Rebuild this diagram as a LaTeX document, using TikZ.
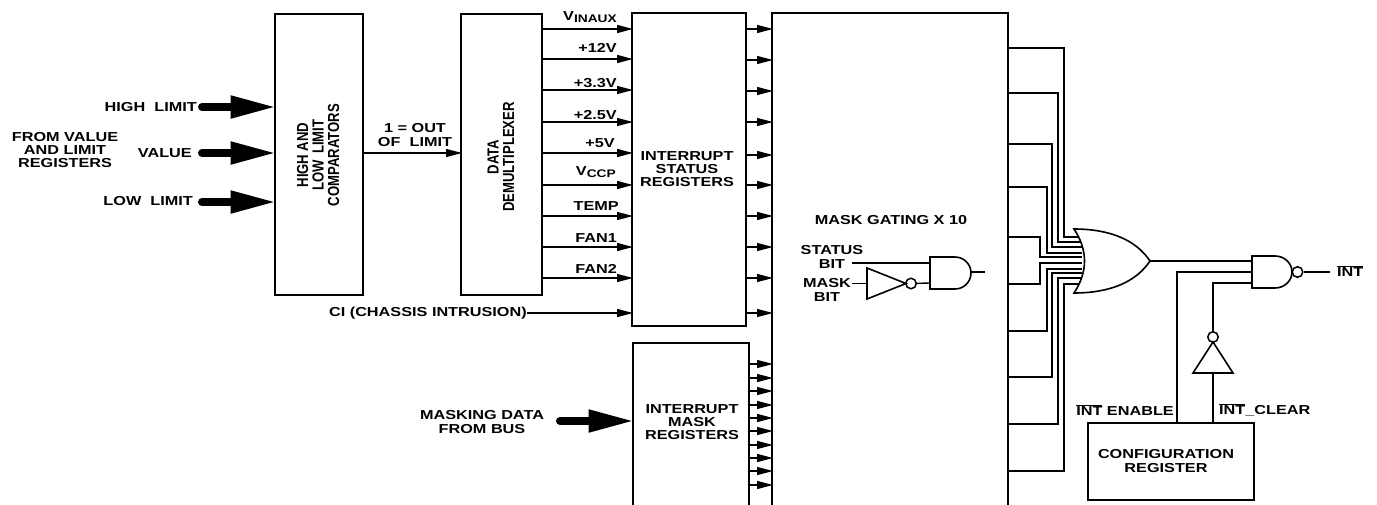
\documentclass[tikz,border=0pt]{standalone}
\usepackage{fontspec}
\setmainfont[FakeStretch=1.25]{Liberation Sans}
\newfontfamily\narrowf[FakeStretch=0.82]{Liberation Sans}
\usetikzlibrary{arrows.meta}
\tikzset{
  blockbox/.style={draw,line width=1.6pt,anchor=north west,inner sep=0pt,outer sep=0pt},
  sig/.style={line width=1.2pt,-{Triangle[length=16pt,width=8pt]},shorten >=-1pt},
  bus/.style={line width=8pt,line cap=round,-{Triangle[length=46pt,width=21pt]},shorten >=-1.5pt},
  wire/.style={line width=1.4pt},
  gate/.style={line width=1.6pt},
  bubble/.style={draw,circle,line width=1.5pt,minimum size=10.5pt,inner sep=0pt},
  lab/.style={font=\bfseries\fontsize{13}{13.4}\selectfont,align=center,inner sep=0pt,text=black},
  rotlab/.style={font=\narrowf\bfseries\fontsize{16}{15.5}\selectfont,align=center,inner sep=0pt,text=black,rotate=90},
}
\newcommand{\lowsub}[1]{\raisebox{-2.5pt}{\fontsize{11}{11}\selectfont #1}}
\begin{document}
\begin{tikzpicture}[x=1pt,y=-1pt]
\useasboundingbox (0,0) rectangle (1377,504);
% blocks
\node[blockbox,minimum width=88pt,minimum height=281pt] (cmp) at (275,14) {};
\node[blockbox,minimum width=81pt,minimum height=281pt] (dmx) at (461,14) {};
\node[blockbox,minimum width=114pt,minimum height=313pt] (sts) at (632,13) {};
\node[blockbox,minimum width=116pt,minimum height=170pt] (msk) at (633,343) {};
\node[blockbox,minimum width=166pt,minimum height=77pt] (cfg) at (1088,423) {};
\draw[line width=1.6pt] (772,520) -- (772,13) -- (1008,13) -- (1008,520);
\coordinate (gateL) at (772,13);
\coordinate (gateR) at (1008,13);
% block labels
\node[rotlab] (cmpt) at (318,155) {HIGH AND\\LOW\, LIMIT\\COMPARATORS};
\node[rotlab] (dmxt) at (501,157) {DATA\\DEMULTIPLEXER};
\node[lab] (stst) at (687,169) {INTERRUPT\\STATUS\\REGISTERS};
\node[lab] (mskt) at (692,422) {INTERRUPT\\MASK\\REGISTERS};
\node[lab] (gatet) at (891,220) {MASK GATING X 10};
\node[lab] (cfgt) at (1166,461) {CONFIGURATION\\REGISTER};
% left inputs
\node[lab,anchor=east] (hl) at (197,107) {HIGH\ \ LIMIT};
\node[lab,anchor=east] (vl) at (192,153) {VALUE};
\node[lab,anchor=east] (ll) at (193,201) {LOW\ \ LIMIT};
\node[lab] (from) at (65,150) {FROM VALUE\\AND LIMIT\\REGISTERS};
\coordinate (hly) at (0,107); \coordinate (vly) at (0,153); \coordinate (lly) at (0,202);
\draw[bus] (202,107) -- (cmp.west |- hly);
\draw[bus] (202,153) -- (cmp.west |- vly);
\draw[bus] (202,202) -- (cmp.west |- lly);
% cmp -> dmx
\node[lab] (oot) at (415,135) {1 = OUT\\OF\ \ LIMIT};
\coordinate (ooty) at (0,153);
\draw[sig] (cmp.east |- ooty) -- (dmx.west |- ooty);
% demux outputs
\foreach \n/\y in {1/29,2/59,3/90,4/122,5/153,6/185,7/216,8/247,9/278}{
  \coordinate (r\n) at (0,\y);
  \draw[sig] (dmx.east |- r\n) -- (sts.west |- r\n);
}
\node[lab,anchor=base east] (t1) at (617,20) {V\lowsub{INAUX}};
\node[lab,anchor=base east] (t2) at (617,52) {+12V};
\node[lab,anchor=base east] (t3) at (617,87) {+3.3V};
\node[lab,anchor=base east] (t4) at (617,119) {+2.5V};
\node[lab,anchor=base east] (t5) at (615,147) {+5V};
\node[lab,anchor=base east] (t6) at (616,175) {V\lowsub{CCP}};
\node[lab,anchor=base east] (t7) at (619,210) {TEMP};
\node[lab,anchor=base east] (t8) at (617,242) {FAN1};
\node[lab,anchor=base east] (t9) at (617,273) {FAN2};
\node[lab,anchor=east] (ci) at (527,313) {CI (CHASSIS INTRUSION)};
\coordinate (r10) at (0,313);
\draw[sig] (ci.east) -- (sts.west |- r10);
% status outputs
\foreach \n/\y in {1/29,2/60,3/91,4/122,5/155,6/185,7/216,8/247,9/278,10/313}{
  \coordinate (s\n) at (0,\y);
  \draw[sig] (sts.east |- s\n) -- (gateL |- s\n);
}
% mask
\foreach \n/\y in {1/364,2/378,3/391,4/405,5/418,6/431,7/445,8/458,9/471,10/485}{
  \coordinate (m\n) at (0,\y);
  \draw[sig] (msk.east |- m\n) -- (gateL |- m\n);
}
\node[lab] (mdb) at (482,422) {MASKING DATA\\FROM BUS};
\coordinate (mdy) at (0,421);
\draw[bus] (560,421) -- (msk.west |- mdy);
% mask gate
\node[lab] (stb) at (832,257) {STATUS\\BIT};
\node[lab] (mkb) at (827,290) {MASK\\BIT};
\coordinate (a1) at (930,263); \coordinate (a2) at (930,283); \coordinate (ao) at (971,272);
\coordinate (iin) at (867,283.5); \coordinate (ib) at (906,283.5);
\draw[gate] (930,257) -- (955,257) arc[start angle=-90,end angle=90,x radius=16pt,y radius=-16pt] -- (930,289) -- cycle;
\draw[gate] (iin |- 0,268) -- (ib) -- (iin |- 0,299) -- cycle;
\node[bubble] (ibub) at (911,283.5) {};
\draw[wire] (852,263) -- (a1);
\draw[wire] (852,283.5) -- (iin);
\draw[wire] (ibub) -- (a2);
\draw[wire] (ao) -- (985,272);
% OR gate
\draw[gate] (1074,229) .. controls (1110,229) and (1136,240) .. (1150,261)
  .. controls (1136,282) and (1110,293) .. (1074,293)
  .. controls (1088,272) and (1088,250) .. (1074,229) -- cycle;
\coordinate (orout) at (1150,261);
% ten wires to OR
\foreach \sy/\vx/\ey/\ex in {48/1064/237/1079,93/1058/242/1080.5,144/1052/247/1081.5,187/1047/253/1082,237/1040/257/1082,
  284/1040/263/1082,331/1047/269/1082,377/1052/273/1081.5,424/1058/278/1080.5,471/1064/284/1079}{
  \draw[wire] (gateR |- 0,\sy) -- (\vx,\sy) -- (\vx,\ey) -- (\ex,\ey);
}
% NAND
\draw[gate] (1252,256) -- (1275,256) arc[start angle=-90,end angle=90,x radius=17pt,y radius=-16pt] -- (1252,288) -- cycle;
\node[bubble] (nbub) at (1297.5,272) {};
\node[lab,anchor=west] (intt) at (1337,271) {$\overline{\mbox{INT}}$};
\coordinate (intend) at (1330,272);
\draw[wire] (nbub) -- (intend);
\draw[wire] (orout) -- (1252,261);
% enable / clear
\coordinate (enT) at (1177,272);
\coordinate (clT) at (1213,283);
\draw[line width=1.8pt] (cfg.north -| enT) -- (enT) -- (1252,272);
\node[bubble] (cbub) at (1213,337) {};
\draw[gate] (1213,342) -- (1233,373) -- (1193,373) -- cycle;
\draw[line width=1.6pt] (cbub) -- (clT) -- (1252,283);
\coordinate (cb) at (1213,373);
\draw[line width=1.6pt] (cfg.north -| cb) -- (cb);
\node[lab,anchor=east] (ent) at (1174,410) {$\overline{\mbox{INT}}$ ENABLE};
\node[lab,anchor=west] (clr) at (1219,410) {$\overline{\mbox{INT}}$\_CLEAR};
\end{tikzpicture}
\end{document}
